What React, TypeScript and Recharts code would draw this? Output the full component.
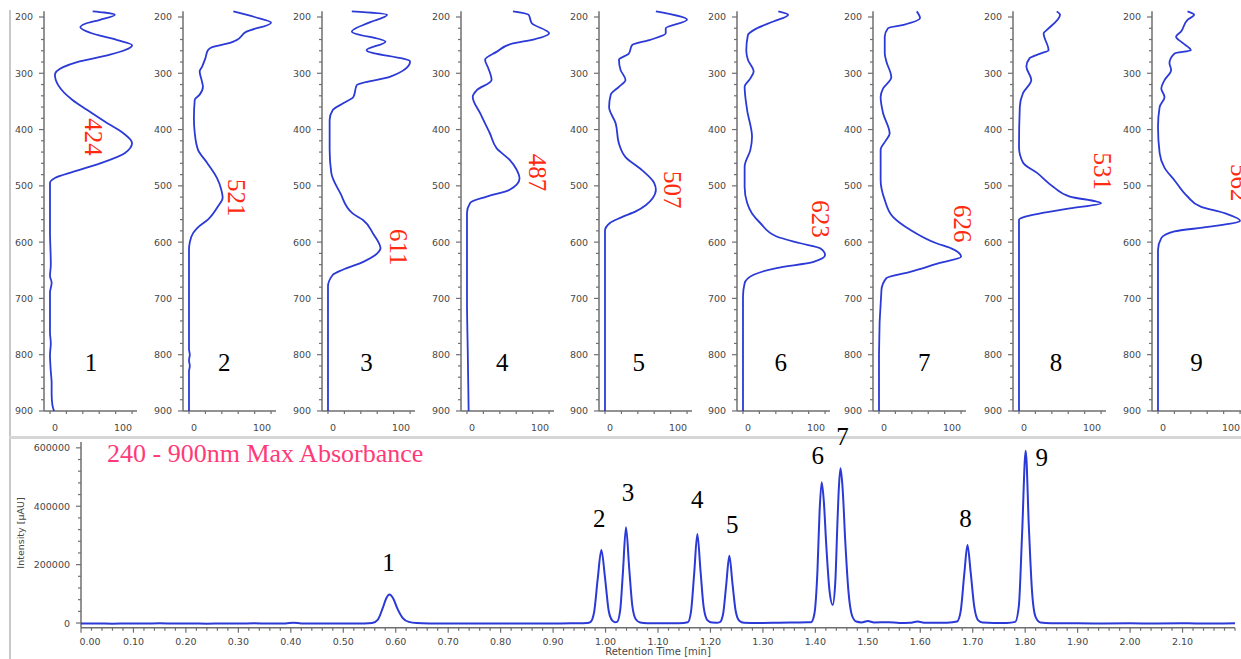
import React from 'react';
import { ScatterChart, Scatter, XAxis, YAxis } from 'recharts';

// ---------------- UV-Vis spectra (wavelength nm -> relative absorbance %) ----------------
const spec1Wl = [190, 192, 196, 205, 212, 218, 228, 241, 250, 267, 280, 289, 303, 321, 347, 365, 388, 406, 424, 442, 460, 475, 486, 495, 520, 580, 640, 660, 672, 690, 760, 780, 800, 830, 850, 870, 890, 900];
const spec1Abs = [52, 66, 79, 61, 43, 37, 49, 82, 100, 73, 33, 16, 6, 10, 27, 45, 69, 89, 100, 91, 61, 28, 6, 0, 0, 0, 1, 0, 2, 0, 0, 1, 0, 1, 2, 2, 3, 5];

const spec2Wl = [190, 200, 210, 226, 241, 246, 253, 259, 273, 288, 297, 310, 324, 338, 347, 380, 406, 436, 459, 486, 505, 521, 537, 560, 575, 584, 600, 614, 700, 790, 800, 810, 820, 830, 900];
const spec2Abs = [54, 80, 100, 70, 58, 50, 29, 23, 20, 16, 13, 15, 17, 13, 7, 6, 7, 11, 22, 34, 39, 41, 35, 23, 10, 5, 1, 0, 0, 0, 1, 0, 1, 0, 0];

const spec3Wl = [190, 196, 210, 226, 244, 259, 279, 306, 321, 342, 353, 365, 383, 436, 477, 513, 549, 561, 585, 605, 611, 620, 635, 649, 658, 679, 750, 800, 900];
const spec3Abs = [29, 72, 50, 29, 70, 47, 100, 76, 35, 31, 19, 6, 2, 2, 4, 15, 30, 43, 55, 63, 64, 60, 43, 18, 6, 0, 0, 0, 0];

const spec4Wl = [190, 196, 211, 229, 240, 247, 262, 276, 291, 312, 330, 342, 371, 407, 433, 454, 470, 487, 507, 519, 530, 548, 600, 700, 800, 900];
const spec4Abs = [56, 75, 79, 100, 81, 56, 36, 22, 26, 30, 12, 7, 16, 28, 36, 52, 60, 64, 52, 24, 4, 0, 0, 0, 1, 2];

const spec5Wl = [190, 205, 220, 229, 241, 250, 265, 276, 294, 312, 324, 338, 360, 389, 425, 449, 472, 495, 507, 522, 534, 545, 556, 566, 580, 600, 700, 800, 900];
const spec5Abs = [62, 100, 74, 74, 54, 33, 29, 17, 19, 25, 17, 7, 5, 13, 17, 25, 45, 60, 62, 58, 50, 38, 20, 6, 0, 0, 0, 0, 0];

const spec6Wl = [190, 196, 208, 220, 232, 259, 276, 297, 309, 324, 365, 413, 436, 466, 502, 530, 549, 566, 590, 602, 611, 623, 635, 646, 658, 673, 697, 800, 900];
const spec6Abs = [43, 55, 37, 17, 6, 4, 6, 13, 9, 2, 5, 11, 9, 2, 2, 5, 11, 21, 41, 70, 94, 100, 86, 41, 13, 2, 0, 0, 0];

const spec7Wl = [190, 202, 214, 220, 235, 264, 279, 307, 327, 342, 371, 407, 418, 436, 490, 525, 555, 578, 602, 611, 626, 637, 653, 664, 685, 800, 900];
const spec7Abs = [46, 50, 30, 11, 7, 7, 9, 15, 5, 2, 5, 13, 9, 2, 2, 7, 17, 38, 70, 88, 100, 74, 38, 9, 3, 0, 0];

const spec8Wl = [190, 196, 223, 229, 259, 265, 273, 288, 312, 335, 360, 431, 459, 477, 502, 519, 531, 540, 549, 556, 560, 700, 800, 900];
const spec8Abs = [46, 50, 34, 30, 36, 26, 13, 9, 15, 5, 1, 0, 5, 22, 42, 62, 100, 62, 26, 5, 0, 0, 0, 0];

const spec9Wl = [190, 196, 205, 226, 235, 246, 259, 265, 282, 294, 312, 327, 342, 360, 395, 442, 468, 490, 519, 537, 549, 562, 573, 581, 593, 614, 700, 800, 900];
const spec9Abs = [36, 44, 36, 28, 22, 30, 40, 20, 14, 16, 8, 4, 8, 2, 0, 2, 8, 20, 36, 52, 82, 100, 61, 20, 4, 0, 0, 0, 0];

const spectraWl = [spec1Wl, spec2Wl, spec3Wl, spec4Wl, spec5Wl, spec6Wl, spec7Wl, spec8Wl, spec9Wl];
const spectraAbs = [spec1Abs, spec2Abs, spec3Abs, spec4Abs, spec5Abs, spec6Abs, spec7Abs, spec8Abs, spec9Abs];

const peakWavelengths = [424, 521, 611, 487, 507, 623, 626, 531, 562];
const peakAbsorbances = [100, 41, 64, 64, 62, 100, 100, 100, 100];
const compoundNames = ['1', '2', '3', '4', '5', '6', '7', '8', '9'];

const specMajorWl = [200, 300, 400, 500, 600, 700, 800, 900];
const specAbsTicks = [0, 20, 40, 60, 80, 100];
const specAbsLabels: Record<number, string> = { 0: '0', 100: '100' };

// ---------------- Chromatogram (retention time min -> intensity µAU) ----------------
const chromTime = [0.000, 0.030, 0.060, 0.090, 0.120, 0.150, 0.180, 0.210, 0.240, 0.270, 0.300, 0.330, 0.360, 0.390, 0.405, 0.420, 0.450, 0.480, 0.510, 0.540, 0.555, 0.566, 0.575, 0.582, 0.588, 0.595, 0.603, 0.613, 0.625, 0.640, 0.670, 0.700, 0.750, 0.800, 0.850, 0.900, 0.940, 0.965, 0.971, 0.978, 0.985, 0.992, 0.999, 1.006, 1.013, 1.018, 1.022, 1.028, 1.033, 1.039, 1.045, 1.051, 1.058, 1.066, 1.080, 1.110, 1.140, 1.157, 1.163, 1.169, 1.175, 1.181, 1.187, 1.194, 1.203, 1.212, 1.218, 1.224, 1.230, 1.236, 1.242, 1.248, 1.255, 1.264, 1.290, 1.330, 1.360, 1.385, 1.392, 1.398, 1.404, 1.408, 1.412, 1.416, 1.421, 1.427, 1.433, 1.438, 1.442, 1.445, 1.448, 1.452, 1.457, 1.463, 1.470, 1.478, 1.488, 1.500, 1.512, 1.540, 1.560, 1.580, 1.595, 1.610, 1.640, 1.662, 1.670, 1.677, 1.684, 1.690, 1.696, 1.703, 1.710, 1.719, 1.740, 1.765, 1.781, 1.788, 1.794, 1.801, 1.807, 1.813, 1.820, 1.829, 1.850, 1.900, 1.950, 2.000, 2.050, 2.100, 2.150, 2.200];
const chromIntensity = [-2000, -1500, -2500, -1500, -2000, -1000, -2000, -1500, -2500, -1500, -2000, -1000, -2000, -1500, 1000, -1500, -2000, -1500, -2000, -1500, 0, 12000, 50000, 85000, 98000, 85000, 50000, 18000, 4000, 0, -1500, -2000, -1500, -2000, -1500, -2000, -1000, 0, 3000, 35000, 150000, 250000, 155000, 42000, 8000, 3000, 4000, 45000, 170000, 328000, 190000, 60000, 12000, 2000, -500, -1000, -500, 3000, 40000, 170000, 305000, 180000, 55000, 10000, 1500, 1000, 3000, 30000, 130000, 230000, 135000, 42000, 8000, 1000, 0, 1000, 2000, 2500, 3000, 30000, 180000, 380000, 482000, 420000, 260000, 110000, 62000, 140000, 340000, 470000, 530000, 460000, 280000, 110000, 25000, 5000, 2000, 7000, 2000, 3000, 0, 1000, 5000, 1000, 1000, 3000, 5000, 40000, 170000, 267000, 175000, 55000, 10000, 1500, 0, 500, 4000, 60000, 300000, 590000, 330000, 110000, 20000, 2000, -500, -1000, -1500, -1000, -1500, -1000, -1500, -1000];

const peakTimes = [0.588, 0.992, 1.039, 1.175, 1.236, 1.412, 1.448, 1.690, 1.801];
const peakHeights = [98000, 250000, 328000, 305000, 230000, 482000, 530000, 267000, 590000];

const timeMajorTicks = [0.0, 0.1, 0.2, 0.3, 0.4, 0.5, 0.6, 0.7, 0.8, 0.9, 1.0, 1.1, 1.2, 1.3, 1.4, 1.5, 1.6, 1.7, 1.8, 1.9, 2.0, 2.1];
const intensityMajorTicks = [0, 200000, 400000, 600000];

const titleText = '240 - 900nm Max Absorbance';
const xAxisTitle = 'Retention Time [min]';
const yAxisTitle = 'Intensity [\u00b5AU]';

// ---------------- styling / layout ----------------
const BLUE = '#2b3ad6';
const AXIS = '#6f6f6f';
const TICK_TEXT = '#474747';
const SANS = "'DejaVu Sans', Verdana, sans-serif";
const SERIF = "'Liberation Serif', 'Times New Roman', serif";

const panelAxisX = [44, 183, 322, 461, 599, 737, 873, 1013, 1152];
const peakLabelOffset = [[-39, -6], [14, 0], [18, -1], [18, -6], [17, 0], [-5, -36], [1, -33], [1, -32], [-1, -38]];
const numberLabelAbs = [50, 43, 47, 43, 41, 46, 55, 45, 47];
const numberLabelWl = 813;
const chromLabelOffset = [[-1, -32], [-2, -32], [2, -35], [0, -34], [3, -31], [-4, -27], [2, -32], [-2, -27], [16, 7]];

const SPEC_TOP = 11.37;
const SPEC_PLOT_H = 399.6;
const SPEC_XAXIS_H = 34;
const SPEC_YAXIS_W = 40;
const SPEC_PLOT_W = 93;
const SPEC_RIGHT = 26;

const CHROM_TOP = 396;
const CHROM_MARGIN_TOP = 46;

// minor tick sets (axis decoration)
const specWlTicks: number[] = [];
for (let w = 200; w <= 900; w += 20) specWlTicks.push(w);
const timeTicks: number[] = [];
for (let i = 0; i <= 110; i++) timeTicks.push(Math.round(i * 2) / 100);
const intensityTicks: number[] = [];
for (let i = 0; i <= 15; i++) intensityTicks.push(i * 40000);

const NoShape = () => <g />;

const SpecYTick = (props: any) => {
  const { x, y, payload } = props;
  const v = payload.value as number;
  const major = specMajorWl.includes(v);
  return (
    <g>
      <line x1={x - (major ? 5 : 3)} x2={x} y1={y} y2={y} stroke={AXIS} strokeWidth={1.2} />
      {major && (
        <text x={x - 11} y={y} dy={3.5} textAnchor="end" fontSize={9.5} fill={TICK_TEXT} fontFamily={SANS}>
          {v}
        </text>
      )}
    </g>
  );
};

const SpecXTick = (props: any) => {
  const { x, y, payload } = props;
  const v = payload.value as number;
  const lbl = specAbsLabels[v];
  const shift = v === 0 ? 5 : v === 100 ? -9 : 0;
  return (
    <g>
      <line x1={x} x2={x} y1={y} y2={y + 3} stroke={AXIS} strokeWidth={1.2} />
      {lbl && (
        <text x={x + shift} y={y + 20.5} textAnchor="middle" fontSize={9.5} fill={TICK_TEXT} fontFamily={SANS}>
          {lbl}
        </text>
      )}
    </g>
  );
};

const ChromXTick = (props: any) => {
  const { x, y, payload } = props;
  const v = payload.value as number;
  const major = timeMajorTicks.some((m) => Math.abs(m - v) < 1e-6);
  return (
    <g>
      <line x1={x} x2={x} y1={y} y2={y + (major ? 5 : 3)} stroke={AXIS} strokeWidth={1.2} />
      {major && (
        <text x={x + (v === 0 ? 9 : 0)} y={y + 17} textAnchor="middle" fontSize={9.5} fill={TICK_TEXT} fontFamily={SANS}>
          {v.toFixed(2)}
        </text>
      )}
    </g>
  );
};

const ChromYTick = (props: any) => {
  const { x, y, payload } = props;
  const v = payload.value as number;
  const major = intensityMajorTicks.includes(v);
  return (
    <g>
      <line x1={x - (major ? 5 : 3)} x2={x} y1={y} y2={y} stroke={AXIS} strokeWidth={1.2} />
      {major && (
        <text x={x - 11} y={y} dy={3.5} textAnchor="end" fontSize={9.5} fill={TICK_TEXT} fontFamily={SANS}>
          {v}
        </text>
      )}
    </g>
  );
};

function SpectrumPanel({ idx }: { idx: number }) {
  const data = spectraWl[idx].map((w, k) => ({ wl: w, a: spectraAbs[idx][k] }));
  const peak = [{ wl: peakWavelengths[idx], a: peakAbsorbances[idx] }];
  const num = [{ wl: numberLabelWl, a: numberLabelAbs[idx] }];
  const [dx, dy] = peakLabelOffset[idx];
  return (
    <div style={{ position: 'absolute', left: panelAxisX[idx] - SPEC_YAXIS_W, top: 0 }}>
      <ScatterChart
        width={SPEC_YAXIS_W + SPEC_PLOT_W + SPEC_RIGHT}
        height={SPEC_TOP + SPEC_PLOT_H + SPEC_XAXIS_H}
        margin={{ top: SPEC_TOP, right: SPEC_RIGHT, bottom: 0, left: 0 }}
      >
        <XAxis
          type="number"
          dataKey="a"
          domain={[-7.3, 106]}
          ticks={specAbsTicks}
          interval={0}
          tickSize={0}
          tickMargin={0}
          tickLine={false}
          axisLine={{ stroke: AXIS, strokeWidth: 1.5 }}
          height={SPEC_XAXIS_H}
          tick={SpecXTick}
        />
        <YAxis
          type="number"
          dataKey="wl"
          domain={[190, 900]}
          reversed
          ticks={specWlTicks}
          interval={0}
          tickSize={0}
          tickMargin={0}
          tickLine={false}
          axisLine={{ stroke: AXIS, strokeWidth: 1.5 }}
          width={SPEC_YAXIS_W}
          tick={SpecYTick}
        />
        <Scatter
          data={data}
          line={{ stroke: BLUE, strokeWidth: 1.8 }}
          lineJointType="monotoneY"
          shape={NoShape}
          isAnimationActive={false}
        />
        <Scatter
          data={peak}
          isAnimationActive={false}
          shape={(p: any) => (
            <text
              transform={`translate(${p.cx + dx},${p.cy + dy}) rotate(90)`}
              textAnchor="middle"
              dominantBaseline="central"
              fontSize={25}
              fill="#ff2a10"
              fontFamily={SERIF}
            >
              {peakWavelengths[idx]}
            </text>
          )}
        />
        <Scatter
          data={num}
          isAnimationActive={false}
          shape={(p: any) => (
            <text x={p.cx} y={p.cy} textAnchor="middle" dominantBaseline="central" fontSize={25} fill="#000" fontFamily={SERIF}>
              {compoundNames[idx]}
            </text>
          )}
        />
      </ScatterChart>
    </div>
  );
}

export default function App() {
  const chromData = chromTime.map((t, k) => ({ t, v: chromIntensity[k] }));
  const peakData = peakTimes.map((t, k) => ({ t, v: peakHeights[k], k }));
  return (
    <div
      style={{
        position: 'absolute',
        left: 0,
        top: 0,
        width: 1241,
        height: 659,
        overflow: 'hidden',
        background: '#fff',
      }}
    >
      {/* frame lines */}
      <div style={{ position: 'absolute', left: 9, top: 10, width: 2, height: 649, background: '#c8c8c8' }} />
      <div style={{ position: 'absolute', left: 9, top: 436, width: 1232, height: 3, background: '#d6d6d6' }} />

      {panelAxisX.map((_, i) => (
        <SpectrumPanel key={i} idx={i} />
      ))}

      <div style={{ position: 'absolute', left: 0, top: CHROM_TOP }}>
        <ScatterChart width={1241} height={659 - CHROM_TOP} margin={{ top: CHROM_MARGIN_TOP, right: 6, bottom: 0, left: 0 }}>
          <XAxis
            type="number"
            dataKey="t"
            domain={[0, 2.2]}
            ticks={timeTicks}
            interval={0}
            tickSize={0}
            tickMargin={0}
            tickLine={false}
            axisLine={{ stroke: AXIS, strokeWidth: 1.5 }}
            height={31.3}
            tick={ChromXTick}
          />
          <YAxis
            type="number"
            dataKey="v"
            domain={[-16000, 620000]}
            ticks={intensityTicks}
            interval={0}
            tickSize={0}
            tickMargin={0}
            tickLine={false}
            axisLine={{ stroke: AXIS, strokeWidth: 1.5 }}
            width={81}
            tick={ChromYTick}
          />
          <Scatter
            data={chromData}
            line={{ stroke: BLUE, strokeWidth: 2 }}
            lineJointType="monotoneX"
            shape={NoShape}
            isAnimationActive={false}
          />
          <Scatter
            data={peakData}
            isAnimationActive={false}
            shape={(p: any) => {
              const k = p.payload ? p.payload.k : 0;
              const [dx, dy] = chromLabelOffset[k];
              return (
                <text
                  x={p.cx + dx}
                  y={p.cy + dy}
                  textAnchor="middle"
                  dominantBaseline="central"
                  fontSize={25}
                  fill="#000"
                  fontFamily={SERIF}
                >
                  {compoundNames[k]}
                </text>
              );
            }}
          />
        </ScatterChart>
      </div>

      {/* titles */}
      <div
        style={{
          position: 'absolute',
          left: 107,
          top: 441,
          fontSize: 26,
          lineHeight: '26px',
          fontFamily: SERIF,
          color: '#ff3a78',
          whiteSpace: 'pre',
        }}
      >
        {titleText}
      </div>
      <div
        style={{
          position: 'absolute',
          left: 658,
          top: 651,
          transform: 'translate(-50%, -50%)',
          fontSize: 10,
          fontFamily: SANS,
          color: TICK_TEXT,
          whiteSpace: 'nowrap',
        }}
      >
        {xAxisTitle}
      </div>
      <div
        style={{
          position: 'absolute',
          left: 20,
          top: 533,
          transform: 'translate(-50%, -50%) rotate(-90deg)',
          fontSize: 9.5,
          fontFamily: SANS,
          color: TICK_TEXT,
          whiteSpace: 'nowrap',
        }}
      >
        {yAxisTitle}
      </div>
    </div>
  );
}
